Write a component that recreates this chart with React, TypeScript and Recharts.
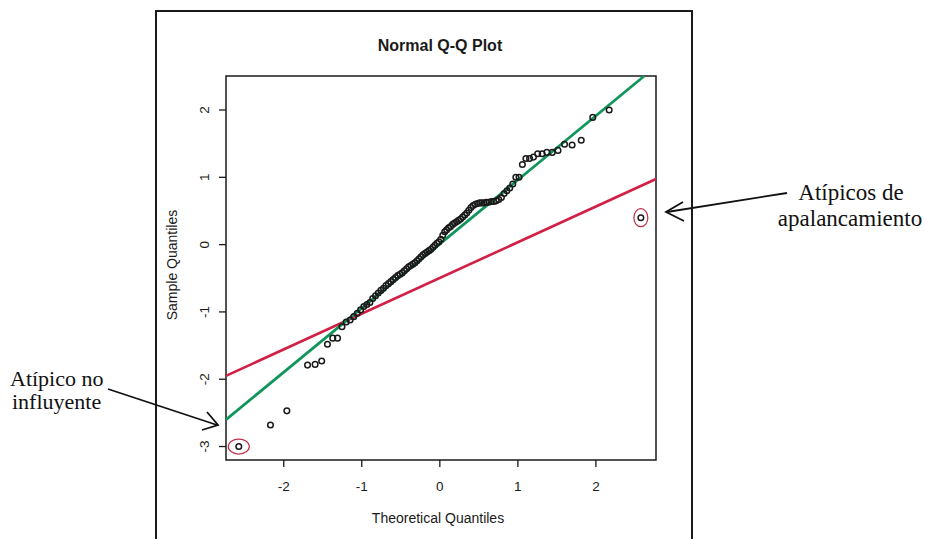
import {
  ComposedChart,
  Scatter,
  XAxis,
  YAxis,
  ReferenceLine,
  ReferenceArea,
  ReferenceDot,
} from "recharts";

// theoretical normal quantiles (x) and sorted sample values (y)
const theoretical = [
  -2.576, -2.17, -1.96, -1.695, -1.598, -1.514, -1.44, -1.372, -1.311, -1.254,
  -1.2, -1.15, -1.103, -1.058, -1.015, -0.974, -0.935, -0.896, -0.86, -0.824,
  -0.789, -0.755, -0.722, -0.69, -0.659, -0.628, -0.598, -0.568, -0.539, -0.51,
  -0.482, -0.454, -0.426, -0.399, -0.372, -0.345, -0.319, -0.292, -0.266, -0.24,
  -0.215, -0.189, -0.164, -0.138, -0.113, -0.088, -0.063, -0.038, -0.013,
  0.013, 0.038, 0.063, 0.088, 0.113, 0.138, 0.164, 0.189, 0.215, 0.24,
  0.266, 0.292, 0.319, 0.345, 0.372, 0.399, 0.426, 0.454, 0.482, 0.51,
  0.539, 0.568, 0.598, 0.628, 0.659, 0.69, 0.722, 0.755, 0.789, 0.824,
  0.86, 0.896, 0.935, 0.974, 1.015, 1.058, 1.103, 1.15, 1.2, 1.254,
  1.311, 1.372, 1.44, 1.514, 1.598, 1.695, 1.812, 1.96, 2.17, 2.576,
];

const sample = [
  -3.0, -2.68, -2.47, -1.79, -1.78, -1.73, -1.48, -1.39, -1.39, -1.22,
  -1.15, -1.12, -1.07, -1.02, -0.97, -0.92, -0.89, -0.86, -0.8, -0.76,
  -0.72, -0.68, -0.65, -0.61, -0.58, -0.55, -0.52, -0.49, -0.46, -0.44,
  -0.42, -0.39, -0.36, -0.33, -0.31, -0.29, -0.27, -0.24, -0.21, -0.18,
  -0.15, -0.13, -0.11, -0.09, -0.07, -0.04, -0.01, 0.02, 0.04,
  0.08, 0.14, 0.19, 0.22, 0.25, 0.27, 0.3, 0.32, 0.34, 0.36,
  0.38, 0.41, 0.44, 0.47, 0.51, 0.55, 0.58, 0.6, 0.61, 0.62,
  0.62, 0.62, 0.63, 0.63, 0.64, 0.64, 0.65, 0.67, 0.7, 0.76,
  0.8, 0.84, 0.9, 1.0, 1.0, 1.19, 1.28, 1.28, 1.3, 1.35,
  1.35, 1.37, 1.37, 1.4, 1.49, 1.48, 1.55, 1.89, 2.0, 0.4,
];

const xTicks = [-2, -1, 0, 1, 2];
const yTicks = [-3, -2, -1, 0, 1, 2];
const xDomain = [-2.74, 2.77];
const yDomain = [-3.2, 2.505];

// fitted lines: end points
const greenLine = [
  { x: -2.74, y: -2.6 },
  { x: 2.62, y: 2.505 },
];
const redLine = [
  { x: -2.74, y: -1.95 },
  { x: 2.77, y: 0.975 },
];

const points = theoretical.map((x, i) => ({ x, y: sample[i] }));
const lowOutlier = points[0];
const highOutlier = points[points.length - 1];

const sans = "'Liberation Sans', Arial, sans-serif";
const serif = "'Liberation Serif', 'Times New Roman', serif";
const ink = "#1a1a1a";

const YTick = (props: any) => {
  const { x, y, payload } = props;
  const bx = x - 8;
  return (
    <text
      x={bx}
      y={y}
      transform={`rotate(-90 ${bx} ${y})`}
      textAnchor="middle"
      fontSize={13.5}
      fontFamily={sans}
      fill={ink}
    >
      {payload.value}
    </text>
  );
};

const Dot = (props: any) => (
  <circle cx={props.cx} cy={props.cy} r={2.8} fill="none" stroke={ink} strokeWidth={1.5} />
);

export default function App() {
  return (
    <div
      style={{
        position: "absolute",
        left: 0,
        top: 0,
        width: 926,
        height: 539,
        overflow: "hidden",
        background: "#fff",
      }}
    >
      <div
        style={{
          position: "absolute",
          left: 155,
          top: 10,
          width: 538,
          height: 560,
          border: "2.5px solid #1a1a1a",
          boxSizing: "border-box",
        }}
      />
      <div style={{ position: "absolute", left: 0, top: 0 }}>
        <ComposedChart
          width={926}
          height={539}
          margin={{ top: 76, right: 270, bottom: 19, left: 166 }}
        >
          <XAxis
            type="number"
            dataKey="x"
            domain={xDomain}
            ticks={xTicks}
            allowDataOverflow
            axisLine={false}
            tickLine={{ stroke: ink, strokeWidth: 1.3 }}
            tickSize={7}
            tickMargin={14}
            height={60}
            tick={{ fontSize: 13.5, fontFamily: sans, fill: ink }}
          />
          <YAxis
            type="number"
            dataKey="y"
            domain={yDomain}
            ticks={yTicks}
            allowDataOverflow
            axisLine={false}
            tickLine={{ stroke: ink, strokeWidth: 1.3 }}
            tickSize={7}
            tickMargin={2}
            width={60}
            tick={<YTick />}
          />
          <ReferenceArea
            x1={xDomain[0]}
            x2={xDomain[1]}
            y1={yDomain[0]}
            y2={yDomain[1]}
            fill="none"
            stroke={ink}
            strokeWidth={1.5}
            ifOverflow="visible"
          />
          <Scatter data={points} shape={<Dot />} isAnimationActive={false} />
          <ReferenceLine
            segment={redLine}
            stroke="#d21f45"
            strokeWidth={2.6}
            ifOverflow="visible"
          />
          <ReferenceLine
            segment={greenLine}
            stroke="#11955a"
            strokeWidth={2.8}
            ifOverflow="visible"
          />
          <ReferenceDot
            x={lowOutlier.x}
            y={lowOutlier.y}
            ifOverflow="visible"
            shape={(p: any) => (
              <ellipse cx={p.cx} cy={p.cy} rx={10.5} ry={7.5} fill="none" stroke="#c0304a" strokeWidth={1.2} />
            )}
          />
          <ReferenceDot
            x={highOutlier.x}
            y={highOutlier.y}
            ifOverflow="visible"
            shape={(p: any) => (
              <ellipse cx={p.cx} cy={p.cy} rx={7} ry={9} fill="none" stroke="#c0304a" strokeWidth={1.2} />
            )}
          />
        </ComposedChart>
      </div>
      <svg
        width={926}
        height={539}
        style={{ position: "absolute", left: 0, top: 0, pointerEvents: "none" }}
      >
        <text x={440} y={51} textAnchor="middle" fontSize={16} fontWeight="bold" fontFamily={sans} fill={ink}>
          Normal Q-Q Plot
        </text>
        <text x={438} y={523} textAnchor="middle" fontSize={14} fontFamily={sans} fill={ink}>
          Theoretical Quantiles
        </text>
        <text
          x={177}
          y={265}
          transform="rotate(-90 177 265)"
          textAnchor="middle"
          fontSize={14}
          fontFamily={sans}
          fill={ink}
        >
          Sample Quantiles
        </text>

        <text x={10} y={386} fontSize={22} fontFamily={serif} fill="#111">
          Atípico no
        </text>
        <text x={12} y={409} fontSize={22} fontFamily={serif} fill="#111">
          influyente
        </text>
        <line x1={108} y1={389} x2={217} y2={425} stroke="#111" strokeWidth={1.8} />
        <polyline points="207,412 218,425 202,430" fill="none" stroke="#111" strokeWidth={1.8} />

        <text x={851} y={200} textAnchor="middle" fontSize={23} fontFamily={serif} fill="#111">
          Atípicos de
        </text>
        <text x={850} y={226} textAnchor="middle" fontSize={23} fontFamily={serif} fill="#111">
          apalancamiento
        </text>
        <line x1={787} y1={193} x2={667} y2={212} stroke="#111" strokeWidth={1.8} />
        <polyline points="683,202 666,212 684,221" fill="none" stroke="#111" strokeWidth={1.8} />
      </svg>
    </div>
  );
}
